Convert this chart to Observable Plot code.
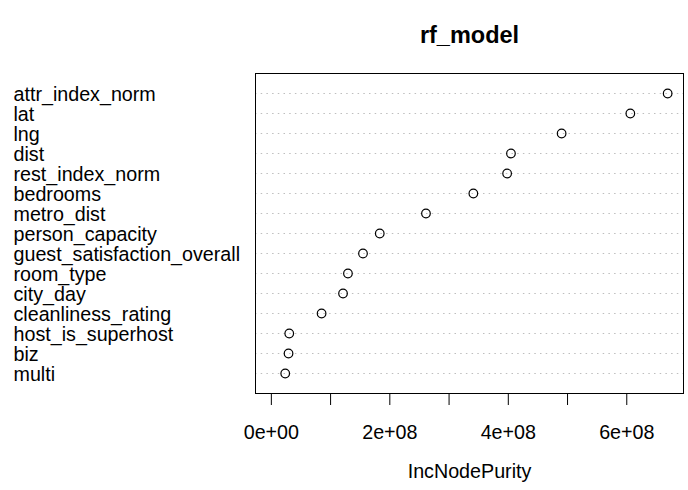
<!DOCTYPE html>
<html>
<head>
<meta charset="utf-8">
<script src="https://cdn.jsdelivr.net/npm/d3@7"></script>
<script src="https://cdn.jsdelivr.net/npm/@observablehq/plot@0.6"></script>
<style>
  html, body { margin: 0; padding: 0; background: white; }
</style>
</head>
<body>
<div id="chart"></div>
<script>
const variables = [
  "attr_index_norm", "lat", "lng", "dist", "rest_index_norm", "bedrooms",
  "metro_dist", "person_capacity", "guest_satisfaction_overall", "room_type",
  "city_day", "cleanliness_rating", "host_is_superhost", "biz", "multi"
];
const incNodePurity = [
  6.69e8, 6.06e8, 4.90e8, 4.045e8, 3.98e8, 3.41e8,
  2.61e8, 1.83e8, 1.547e8, 1.293e8,
  1.21e8, 0.848e8, 0.302e8, 0.29e8, 0.234e8
];
const tickValues = [0, 1e8, 2e8, 3e8, 4e8, 5e8, 6e8];
const tickLabels = ["0e+00", "", "2e+08", "", "4e+08", "", "6e+08"];
const title = "rf_model";
const xLabel = "IncNodePurity";

const data = variables.map((name, i) => ({name, value: incNodePurity[i]}));
const maxV = d3.max(incNodePurity);
const fs = 19.7;

const chart = Plot.plot({
  width: 688,
  height: 490,
  marginLeft: 255,
  marginRight: 5,
  marginTop: 73,
  marginBottom: 97,
  style: {fontFamily: "'Liberation Sans', Arial, Helvetica, sans-serif", background: "white", color: "black"},
  x: {domain: [-0.04 * maxV, 1.04 * maxV]},
  y: {type: "point", domain: variables, padding: 1},
  marks: [
    Plot.ruleY(data, {y: "name", stroke: "#bebebe", strokeDasharray: "1.5,4.2"}),
    Plot.frame({stroke: "black", strokeWidth: 1}),
    Plot.axisX({
      ticks: tickValues,
      tickFormat: (d) => tickLabels[tickValues.indexOf(d)],
      tickSize: 12,
      tickPadding: 19.5,
      fontSize: fs,
      stroke: "black",
      label: null
    }),
    Plot.axisY({ticks: [], label: null}),
    Plot.text(data, {
      y: "name", text: "name", frameAnchor: "left", textAnchor: "start",
      dx: -242, dy: 1.4, fontSize: fs, fill: "black"
    }),
    Plot.dot(data, {x: "value", y: "name", r: 4.3, stroke: "black", strokeWidth: 1.2, fill: "none"}),
    Plot.text([title], {
      text: (d) => d, frameAnchor: "top", dy: -47.2, fontSize: 23.5, fontWeight: "bold", fill: "black"
    }),
    Plot.text([xLabel], {
      text: (d) => d, frameAnchor: "bottom", dy: 84, fontSize: fs, fill: "black"
    })
  ]
});
document.getElementById("chart").appendChild(chart);
</script>
</body>
</html>
